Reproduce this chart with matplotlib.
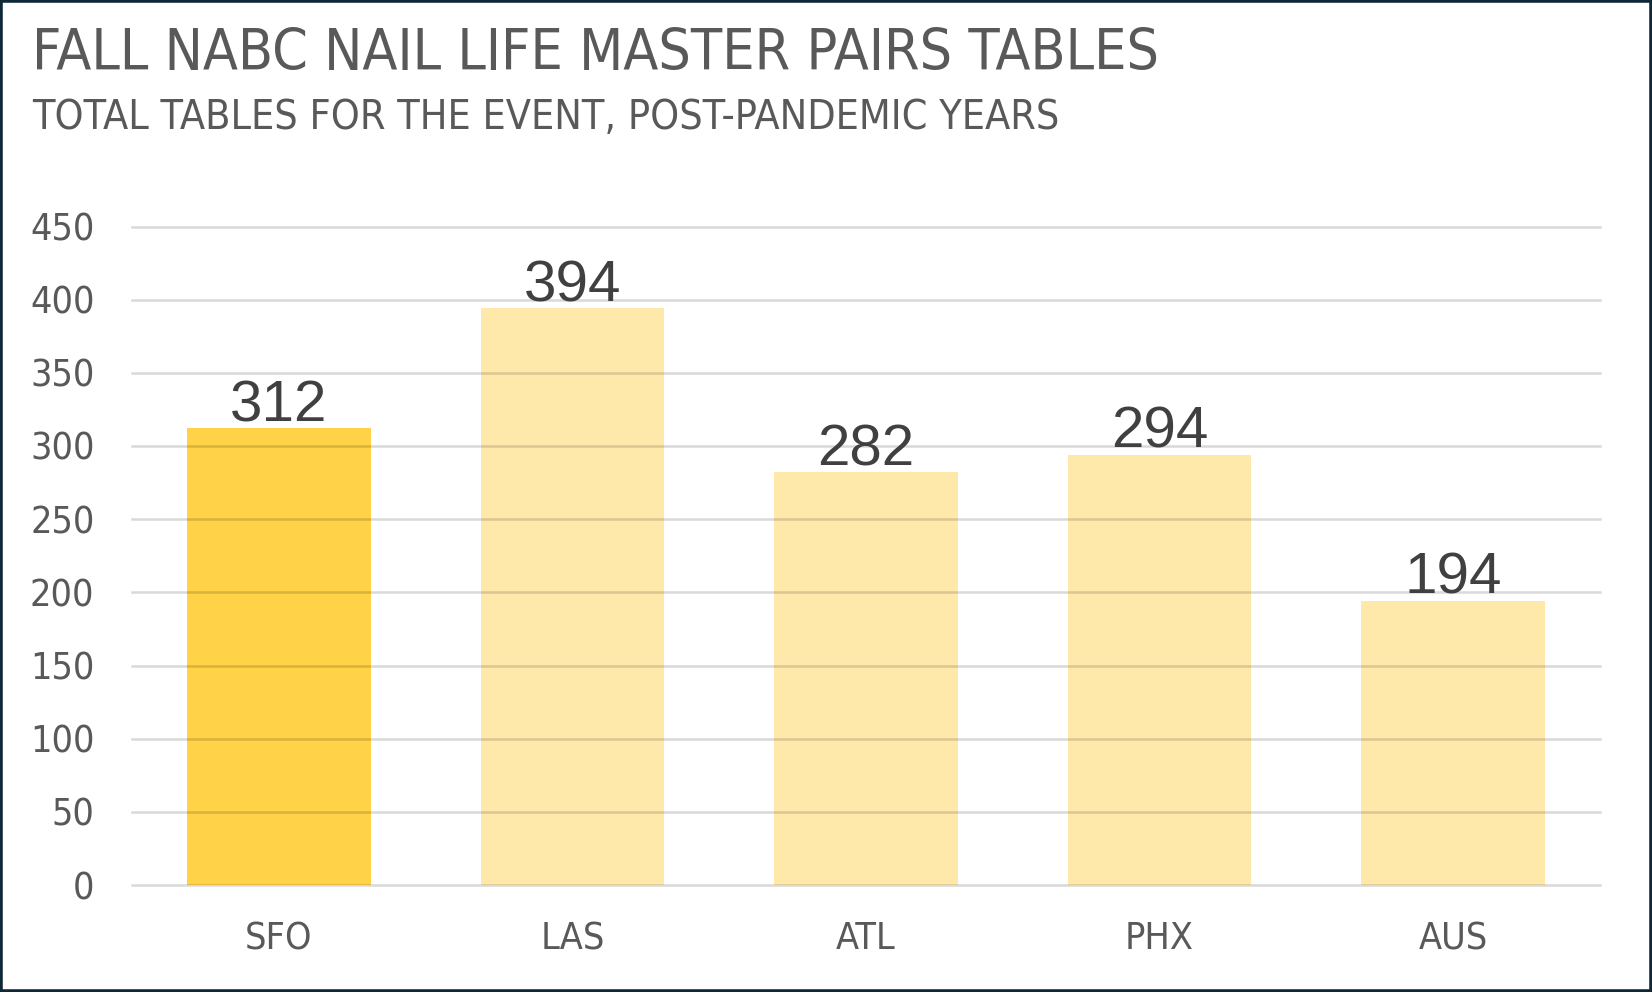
import matplotlib.pyplot as plt
from matplotlib.patches import Rectangle

cities = ['SFO', 'LAS', 'ATL', 'PHX', 'AUS']
tables = [312, 394, 282, 294, 194]
highlight = 'SFO'

text_gray = '#595959'
cond = dict(family='DejaVu Sans', fontstretch='condensed')

fig = plt.figure(figsize=(16.52, 9.92), dpi=100)
ax = fig.add_axes([132 / 1652, 1 - 885 / 992, (1600 - 132) / 1652, (885 - 226.5) / 992])

colors = ['#FFD247' if c == highlight else '#FFE9AA' for c in cities]
bars = ax.bar(range(len(cities)), tables, width=0.625, color=colors, zorder=2)

for b, v in zip(bars, tables):
    ax.text(b.get_x() + b.get_width() / 2, v + 5, str(v), ha='center', va='baseline',
            fontsize=42, color='#404040', family='Liberation Sans', zorder=4)

ax.set_xlim(-0.5, len(cities) - 0.5)
ax.set_ylim(0, 450)
ax.set_yticks(range(0, 451, 50))
ax.set_xticks(range(len(cities)))
ax.set_xticklabels(cities)
ax.grid(axis='y', color='black', alpha=0.15, linewidth=1.8, zorder=3)
for gl in ax.get_ygridlines():
    gl.set_clip_on(False)
ax.set_axisbelow(False)
for s in ax.spines.values():
    s.set_visible(False)
ax.tick_params(length=0, labelcolor=text_gray)
ax.tick_params(axis='y', pad=27, labelsize=27)
ax.tick_params(axis='x', pad=26, labelsize=27)
for lab in ax.get_xticklabels() + ax.get_yticklabels():
    lab.set_family('DejaVu Sans')
    lab.set_fontstretch('condensed')

fig.text(32 / 1652, 1 - 69.5 / 992, 'FALL NABC NAIL LIFE MASTER PAIRS TABLES',
         fontsize=41, color=text_gray, va='baseline', **cond)
fig.text(32 / 1652, 1 - 128.5 / 992, 'TOTAL TABLES FOR THE EVENT, POST-PANDEMIC YEARS',
         fontsize=29.5, color=text_gray, va='baseline', **cond)

fig.patches.append(Rectangle((0, 0), 1, 1, transform=fig.transFigure, fill=False,
                             edgecolor='#0E2838', linewidth=4))

fig.savefig('out.png', dpi=100)
